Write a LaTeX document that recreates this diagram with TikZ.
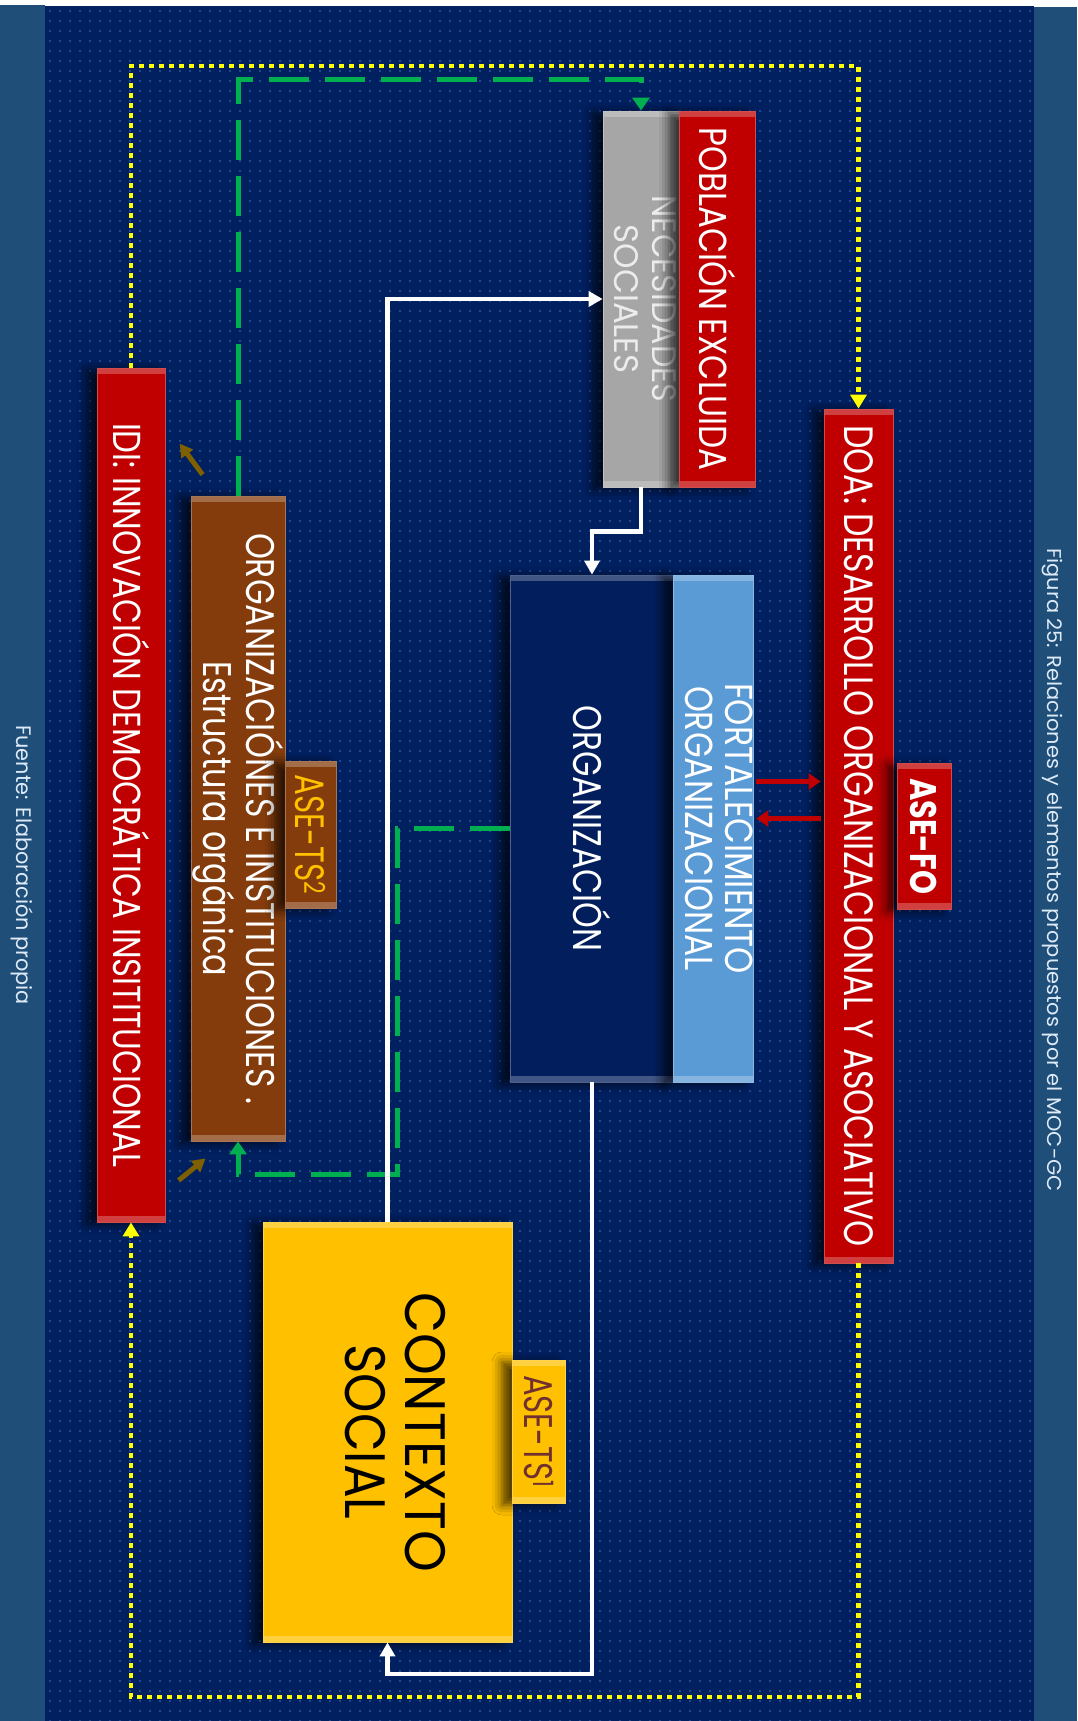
\documentclass[tikz,border=0pt]{standalone}
\usepackage{fontspec}
\setmainfont{Poppins}
\usetikzlibrary{arrows.meta,patterns.meta,shadows.blur,positioning}

\definecolor{stripc}{RGB}{31,78,121}
\definecolor{navybg}{RGB}{0,32,96}
\definecolor{dotc}{RGB}{60,110,190}
\definecolor{redc}{RGB}{192,0,0}
\definecolor{brownc}{RGB}{132,60,12}
\definecolor{goldc}{RGB}{255,192,0}
\definecolor{grayc}{RGB}{166,166,166}
\definecolor{orgc}{RGB}{2,30,92}
\definecolor{lbluec}{RGB}{91,155,213}
\definecolor{greenc}{RGB}{0,176,80}
\definecolor{olivec}{RGB}{127,96,0}
\definecolor{yelc}{RGB}{255,255,0}
\definecolor{capc}{RGB}{222,235,247}
\definecolor{ts1c}{RGB}{112,48,48}

% squeeze a line of text to a given width (pt)
\newsavebox\fitbox
\newcommand\fitw[2]{\sbox\fitbox{#2}\pgfmathsetmacro\fitk{#1/\the\wd\fitbox}\scalebox{\fitk}[1]{\usebox\fitbox}}
\newcommand\fsz[2]{\fontsize{#1pt}{#2pt}\selectfont}

\tikzset{
  box/.style={draw=#1!70!white, line width=0.8pt, fill=#1, inner sep=0pt,
    blur shadow={shadow xshift=-10pt, shadow yshift=-2pt, shadow blur radius=10pt, shadow opacity=70},
    path picture={
      \fill[#1!75!white] (path picture bounding box.north west) rectangle ([yshift=-6pt]path picture bounding box.north east);
      \fill[#1!75!white] (path picture bounding box.south west) rectangle ([yshift=6pt]path picture bounding box.south east);}},
  yelarr/.style={yelc, line width=4.5pt, dash pattern=on 5pt off 5pt, -{Triangle[width=16pt,length=14pt]}},
  grnarr/.style={greenc, line width=5pt, dash pattern=on 40pt off 16pt, -{Triangle[width=17pt,length=13pt]}},
  whtarr/.style={white, line width=4.5pt, -{Triangle[width=15pt,length=14pt]}},
  redarr/.style={redc, line width=5pt, -{Triangle[width=16pt,length=12pt]}},
  olvarr/.style={olivec, line width=5pt, -{Triangle[width=14pt,length=13pt]}},
}

\begin{document}
\begin{tikzpicture}[x=1pt, y=-1pt]
  \useasboundingbox (0,0) rectangle (1077,1721);
  % background and side strips
  \fill[white] (0,0) rectangle (1077,1721);
  \fill[stripc] (0,5) rectangle (45,1721);
  \fill[stripc] (1034,7) rectangle (1077,1721);
  \fill[navybg] (45,6) rectangle (1034,1721);
  \fill[pattern={Dots[distance=10pt,radius=0.8pt]}, pattern color=dotc] (45,6) rectangle (1034,1721);

  % captions
  \node[text=capc] (cap) at (1052,870)
    {\rotatebox{-90}{\fsz{20}{22}\fitw{644}{Figura 25: Relaciones y elementos propuestos por el MOC-GC}}};
  \node[text=capc] (src) at (22,865)
    {\rotatebox{-90}{\fsz{21}{24}\fitw{280}{Fuente: Elaboración propia}}};

  % boxes
  \node[box=redc, minimum width=68pt, minimum height=854pt, text=white] (idi) at (131,795)
    {\rotatebox{-90}{\fsz{39}{42}\fitw{744}{IDI: INNOVACIÓN DEMOCRÁTICA INSITITUCIONAL}}};
  \node[box=brownc, minimum width=94pt, minimum height=645pt, text=white] (orgs) at (238,818.5)
    {\rotatebox{-90}{\fsz{40}{38}\begin{tabular}{@{}c@{}}\fitw{571}{ORGANIZACIÓNES E INSTITUCIONES .}\\ \fitw{315}{Estructura orgánica}\end{tabular}}};
  \node[box=brownc, minimum width=51pt, minimum height=147pt, text=goldc] (ts2) at (310.5,834.5)
    {\rotatebox{-90}{\fsz{41}{44}\fitw{120}{ASE-TS\textsuperscript{2}}}};
  \node[box=goldc, minimum width=249pt, minimum height=420pt, text=black] (ctx) at (387.5,1432)
    {\rotatebox{-90}{\fsz{57}{60}\begin{tabular}{@{}c@{}}\fitw{280}{CONTEXTO}\\ \fitw{175}{SOCIAL}\end{tabular}}};
  \node[box=goldc, minimum width=53pt, minimum height=143pt, text=ts1c] (ts1) at (538.5,1431.5)
    {\rotatebox{-90}{\fsz{40}{44}\fitw{113}{ASE-TS\textsuperscript{1}}}};
  \node[box=orgc, minimum width=164pt, minimum height=507pt, text=white] (org) at (592,828.5)
    {\rotatebox{-90}{\fsz{40}{44}\fitw{246}{ORGANIZACIÓN}}};
  \node[box=lbluec, minimum width=78pt, minimum height=507pt, text=white] (fort) at (713,828.5)
    {\rotatebox{-90}{\fsz{39}{40}\begin{tabular}{@{}c@{}}\fitw{291}{FORTALECIMIENTO}\\ \fitw{285}{ORGANIZACIONAL}\end{tabular}}};
  \node[box=grayc, minimum width=76pt, minimum height=376pt, text=gray!15] (nec) at (641,299)
    {\rotatebox{-90}{\fsz{34}{38}\begin{tabular}{@{}c@{}}\fitw{207}{NECESIDADES}\\ \fitw{149}{SOCIALES}\end{tabular}}};
  \node[box=redc, minimum width=76pt, minimum height=376pt, text=white] (pob) at (717,299)
    {\rotatebox{-90}{\fsz{39}{42}\fitw{343}{POBLACIÓN EXCLUIDA}}};
  \node[box=redc, minimum width=69pt, minimum height=854pt, text=white] (doa) at (858.5,836)
    {\rotatebox{-90}{\fsz{41}{44}\fitw{821}{DOA: DESARROLLO ORGANIZACIONAL Y ASOCIATIVO}}};
  \node[box=redc, minimum width=54pt, minimum height=146pt, text=white] (fo) at (924,836)
    {\rotatebox{-90}{\fsz{37}{40}\bfseries\fitw{116}{ASE-FO}}};

  % yellow dotted loop
  \coordinate (ytop) at (500,66);
  \coordinate (ybot) at (500,1697);
  \draw[yelarr] (idi.north) |- (ytop) -| (doa.north);
  \draw[yelarr] (doa.south) |- (ybot) -| (idi.south);

  % green dashed
  \coordinate (gtop) at (440,79);
  \coordinate (gbot) at (397,1174);
  \draw[grnarr] (orgs.north) |- (gtop) -| (nec.north);
  \draw[grnarr] (org.west) -| (gbot) -| (orgs.south);

  % white flow
  \coordinate (wbot) at (490,1674);
  \draw[whtarr] (ctx.north) |- (nec.west);
  \draw[whtarr] (nec.south) -- ++(0,44) -| (org.north);
  \draw[whtarr] (org.south) |- (wbot) -| (ctx.south);

  % red exchange arrows
  \coordinate (r1) at ([yshift=47pt]fort.east);
  \coordinate (r2) at ([yshift=10pt]fort.east);
  \draw[redarr, shorten <=3pt, shorten >=3pt] (r1) -- (r1 -| doa.west);
  \draw[redarr, shorten <=3pt, shorten >=3pt] (r2 -| doa.west) -- (r2);

  % small olive arrows
  \draw[olvarr] ([xshift=12pt,yshift=21pt]orgs.north west) -- ++(-23pt,31pt);
  \draw[olvarr] ([xshift=-12pt,yshift=-39pt]orgs.south west) -- ++(27pt,22pt);
\end{tikzpicture}
\end{document}
